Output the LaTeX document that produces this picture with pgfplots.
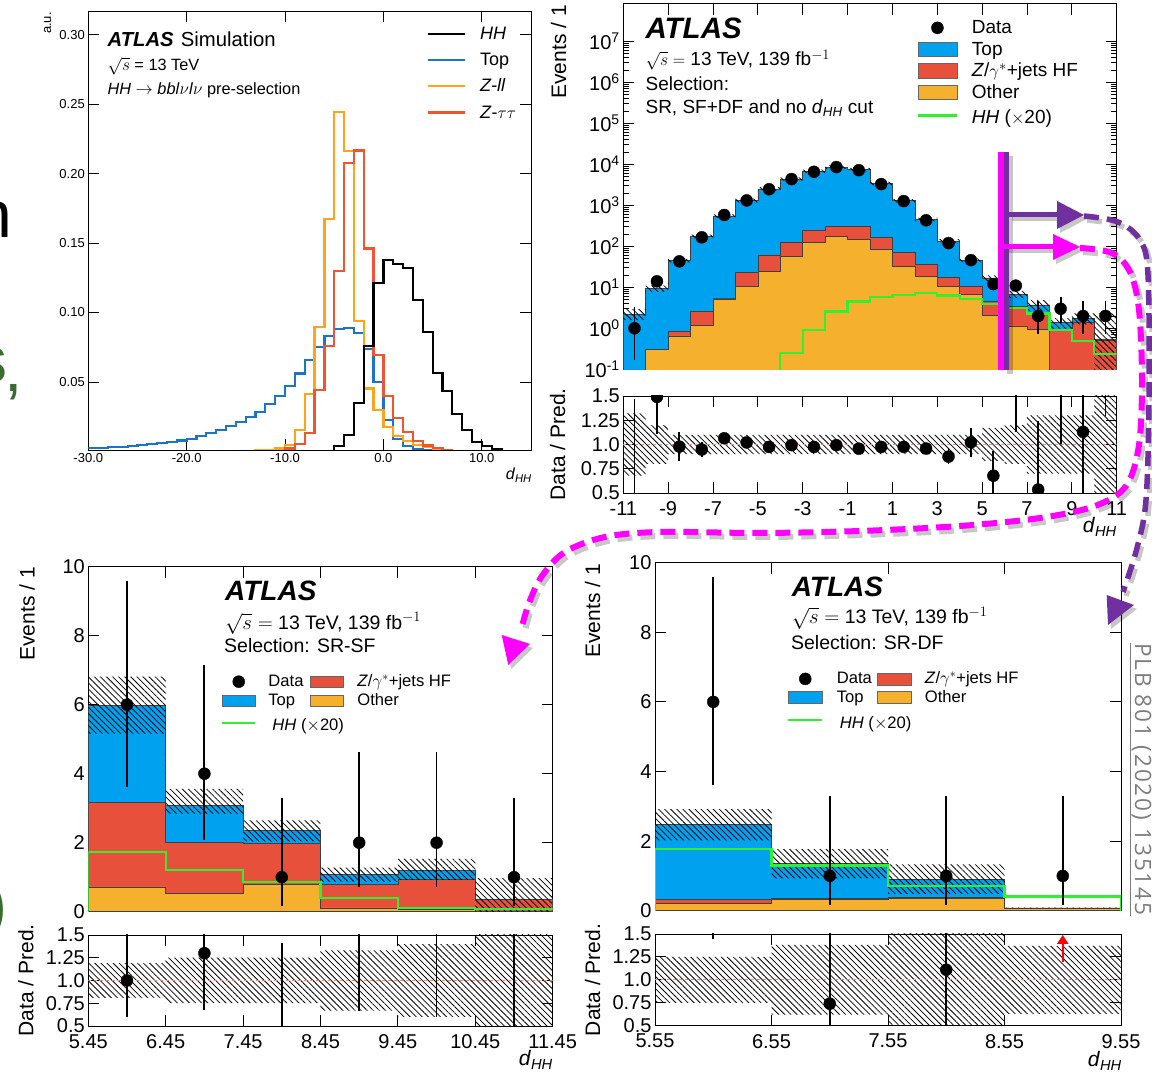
\documentclass[border=0pt]{standalone}
\usepackage{fontspec}
\setmainfont{Liberation Sans}
\newfontfamily\citefont[LetterSpace=9]{Open Sans}
\usepackage{pgfplots}
\pgfplotsset{compat=1.18}
\usetikzlibrary{patterns.meta,arrows.meta}

\definecolor{topblue}{RGB}{0,161,238}
\definecolor{zred}{RGB}{231,80,58}
\definecolor{othorange}{RGB}{245,177,46}
\definecolor{hhgreen}{RGB}{48,240,48}
\definecolor{tlblue}{RGB}{28,117,196}
\definecolor{tlorange}{RGB}{255,163,26}
\definecolor{tlred}{RGB}{240,84,48}
\definecolor{mag}{RGB}{255,0,255}
\definecolor{purp}{RGB}{112,48,160}
\definecolor{slidegreen}{RGB}{58,108,48}
\definecolor{citegrey}{RGB}{125,125,125}

\newcommand{\fs}[1]{\fontsize{#1}{#1}\selectfont}
\newcommand{\dHH}{\textit{d}\textsubscript{\textit{HH}}}
\newcommand{\lstrut}[2]{\rule[-#2pt]{0pt}{\dimexpr#1pt+#2pt\relax}}

\pgfplotsset{
  atlas/.style={
    scale only axis, anchor=south west,
    axis line style={line width=0.9pt},
    tick style={black, line width=0.9pt},
    major tick length=11pt, minor tick length=6pt,
    tick align=inside,
    tick label style={font=\fs{20}},
    clip marker paths=true,
    legend cell align=left,
    legend style={draw=none, fill=none, inner sep=0pt, outer sep=0pt,
      row sep=0pt, column sep=0pt, nodes={inner sep=0pt, outer sep=0pt, text depth=}},
  },
  ratio/.style={xticklabel style={yshift=-5pt}},
  hatch/.style={draw=none, forget plot, pattern={Lines[angle=-45,distance=4.3pt,line width=0.8pt]}, pattern color=black},
  stackfill/.style={const plot, draw=black!75, line width=0.6pt, forget plot},
  hist/.style={const plot, line width=2.2pt, forget plot},
  datapts/.style={only marks, mark=*, mark size=6pt, black, forget plot,
    error bars/.cd, y dir=both, y explicit, error mark=none,
    error bar style={line width=1.8pt, black}},
  unity/.style={red!50, dashed, line width=0.8pt, forget plot},
}

% paths of the annotation arrows (pixel units, y downwards)
\newcommand{\magcurve}{plot[smooth,tension=0.55] coordinates {(1080,248) (1112,253) (1130,272) (1139,310) (1142,380) (1139,445) (1126,486) (1095,506) (1040,518) (960,526) (860,531) (760,533) (660,532) (605,537) (565,552) (542,576) (529,603) (521,630)}}
\newcommand{\purpcurve}{plot[smooth,tension=0.55] coordinates {(1084,216) (1118,222) (1140,240) (1148,275) (1149,400) (1146,500) (1137,548) (1123,592)}}

\begin{document}
\begin{tikzpicture}
\path[use as bounding box] (0,0) rectangle (1152pt,1075pt);
\clip (0,0) rectangle (1152pt,1075pt);

%% ---------------- normalised d_HH shapes ----------------
\begin{axis}[atlas, at={(88.3pt,625pt)}, width=442.7pt, height=439pt,
  xmin=-30, xmax=15, ymin=0.001, ymax=0.317,
  axis line style={line width=0.7pt}, tick style={black,line width=0.7pt},
  xtick={-30,-20,-10,0,10}, xticklabels={-30.0,-20.0,-10.0,0.0,10.0},
  ytick={0.05,0.1,0.15,0.2,0.25,0.3}, yticklabels={0.05,0.10,0.15,0.20,0.25,0.30},
  tick label style={font=\fs{13}},
  legend style={at={(0.7651,0.9789)}, anchor=north west, font=\fs{18}}]
\addplot[hist, tlblue] coordinates {
 (-30,0.0022)(-29,0.0026)(-28,0.0030)(-27,0.0034)(-26,0.0039)(-25,0.0045)(-24,0.0052)(-23,0.0060)(-22,0.0068)(-21,0.0078)
 (-20,0.0089)(-19,0.0108)(-18,0.0132)(-17,0.0156)(-16,0.0180)(-15,0.0209)(-14,0.0247)(-13,0.0286)(-12,0.0340)(-11,0.0400)
 (-10,0.0470)(-9,0.0560)(-8,0.0655)(-7,0.0750)(-6,0.0830)(-5,0.0880)(-4,0.0890)(-3,0.0850)(-2,0.0737)(-1,0.0497)
 (0,0.0223)(1,0.0089)(2,0.0041)(3,0.0017)(4,0.0007)(5,0)(6,0)};
\addplot[hist, tlorange] coordinates {
 (-17,0)(-16,0.0005)(-15,0.0005)(-14,0.0005)(-13,0.0007)(-12,0.0010)(-11,0.0020)(-10,0.0048)(-9,0.0151)(-8,0.0415)
 (-7,0.0895)(-6,0.1670)(-5,0.2440)(-4,0.2164)(-3,0.0936)(-2,0.0453)(-1,0.0300)(0,0.0175)(1,0.0108)(2,0.0072)
 (3,0.0048)(4,0.0030)(5,0.0017)(6,0.0010)(7,0)(8,0)};
\addplot[hist, tlred] coordinates {
 (-12,0)(-11,0.0005)(-10,0.0020)(-9,0.0053)(-8,0.0132)(-7,0.0444)(-6,0.0756)(-5,0.1300)(-4,0.2075)(-3,0.2166)
 (-2,0.1460)(-1,0.0696)(0,0.0396)(1,0.0240)(2,0.0137)(3,0.0072)(4,0.0043)(5,0.0024)(6,0.0012)(7,0)(8,0)};
\addplot[hist, black] coordinates {
 (-6,0)(-5,0.0036)(-4,0.0120)(-3,0.0348)(-2,0.0756)(-1,0.1210)(0,0.1380)(1,0.1348)(2,0.1320)(3,0.1087)
 (4,0.0857)(5,0.0564)(6,0.0432)(7,0.0269)(8,0.0151)(9,0.0067)(10,0.0036)(11,0.0019)(12,0.0005)(13,0)};
\addlegendimage{legend image code/.code={\draw[black,line width=2.5pt] (0pt,-0.7pt) -- (37pt,-0.7pt); \path (51.6pt,-0.7pt);}}
\addlegendentry{\lstrut{19.55}{6.55}\textit{HH}}
\addlegendimage{legend image code/.code={\draw[tlblue,line width=2.5pt] (0pt,-0.7pt) -- (37pt,-0.7pt); \path (51.6pt,-0.7pt);}}
\addlegendentry{\lstrut{19.55}{6.55}Top}
\addlegendimage{legend image code/.code={\draw[tlorange,line width=2.5pt] (0pt,-0.7pt) -- (37pt,-0.7pt); \path (51.6pt,-0.7pt);}}
\addlegendentry{\lstrut{19.55}{6.55}\textit{Z-ll}}
\addlegendimage{legend image code/.code={\draw[tlred,line width=2.5pt] (0pt,-0.7pt) -- (37pt,-0.7pt); \path (51.6pt,-0.7pt);}}
\addlegendentry{\lstrut{19.55}{6.55}\textit{Z}-$\tau\tau$}
\end{axis}

%% ---------------- SR, SF+DF, no d_HH cut: main (log) ----------------
\begin{axis}[atlas, at={(623.3pt,705.7pt)}, width=493.4pt, height=365.7pt,
  xmin=-11, xmax=11, ymode=log, ymin=0.1, ymax=8.4e7,
  xtick={-11,-9,...,11}, xticklabels={},
  ytick={0.1,1,10,100,1000,10000,100000,1000000,10000000},
  yticklabels={10\textsuperscript{-1},10\textsuperscript{0},10\textsuperscript{1},10\textsuperscript{2},10\textsuperscript{3},10\textsuperscript{4},10\textsuperscript{5},10\textsuperscript{6},10\textsuperscript{7}},
  legend style={at={(0.5946,0.9642)}, anchor=north west, font=\fs{19}}]
\addplot[stackfill, fill=topblue] coordinates {(-11,0.01)
 (-11,2.25)(-10,9.5)(-9,45)(-8,175)(-7,551)(-6,1320)(-5,2520)(-4,4400)(-3,6800)(-2,8600)(-1,7500)
 (0,3400)(1,1300)(2,450)(3,136)(4,46)(5,17)(6,6.8)(7,3.74)(8,1.37)(9,1.77)(10,0.55)(11,0.55)(11,0.01)};
\addplot[stackfill, fill=zred] coordinates {(-11,0.01)
 (-10,0.31)(-9,0.83)(-8,2.55)(-7,5.4)(-6,22.8)(-5,61.7)(-4,128)(-3,251)(-2,316)(-1,316)
 (0,163)(1,70)(2,36)(3,17.6)(4,10.8)(5,4.5)(6,3.5)(7,2.3)(8,0.9)(9,1.37)(10,0.52)(11,0.52)(11,0.01)};
\addplot[stackfill, fill=othorange] coordinates {(-11,0.01)
 (-10,0.31)(-9,0.65)(-8,1.16)(-7,5.2)(-6,10.5)(-5,24)(-4,58)(-3,123)(-2,173)(-1,148)
 (0,85)(1,33)(2,18.2)(3,10.5)(4,6.8)(5,2.1)(6,1.14)(7,0.96)(8,0.01)(11,0.01)};
% uncertainty band on the total prediction
\addplot[hatch] coordinates {
 (-11,2.925)(-10,2.925)(-10,11.21)(-9,11.21)(-9,49.5)(-8,49.5)(-8,192.5)(-7,192.5)(-7,606.1)(-6,606.1)
 (-6,1452)(-5,1452)(-5,2772)(-4,2772)(-4,4840)(-3,4840)(-3,7480)(-2,7480)(-2,9460)(-1,9460)
 (-1,8250)(0,8250)(0,3740)(1,3740)(1,1430)(2,1430)(2,495)(3,495)(3,149.6)(4,149.6)
 (4,50.6)(5,50.6)(5,19.55)(6,19.55)(6,8.16)(7,8.16)(7,4.86)(8,4.86)(8,1.78)(9,1.78)(9,2.30)(10,2.30)(10,2.31)(11,2.31)
 (11,0.01)(10,0.01)(10,1.24)(9,1.24)(9,0.96)(8,0.96)(8,2.62)(7,2.62)(7,5.44)(6,5.44)(6,14.45)(5,14.45)
 (5,41.4)(4,41.4)(4,122.4)(3,122.4)(3,405)(2,405)(2,1170)(1,1170)(1,3060)(0,3060)
 (0,6750)(-1,6750)(-1,7740)(-2,7740)(-2,6120)(-3,6120)(-3,3960)(-4,3960)(-4,2268)(-5,2268)
 (-5,1188)(-6,1188)(-6,495.9)(-7,495.9)(-7,157.5)(-8,157.5)(-8,40.5)(-9,40.5)(-9,7.79)(-10,7.79)(-10,1.575)(-11,1.575)};
\addplot[const plot, hhgreen, line width=2.2pt, forget plot] coordinates {
 (-5,0.01)(-4,0.245)(-3,0.91)(-2,2.57)(-1,4.5)(0,5.9)(1,6.5)(2,7.2)(3,6.3)(4,5.2)(5,3.9)(6,3.1)(7,2.3)(8,0.9)(9,0.5)(10,0.24)(11,0.24)};
\addplot[datapts] coordinates {
 (-10.5,1) += (0,2.30) -= (0,0.83)
 (-9.5,14) += (0,4.8) -= (0,3.6)
 (-8.5,43) +- (0,6.6)
 (-7.5,166) +- (0,12.9)
 (-6.5,583) +- (0,24)
 (-5.5,1320) +- (0,36)
 (-4.5,2470) +- (0,50)
 (-3.5,4370) +- (0,66)
 (-2.5,6600) +- (0,81)
 (-1.5,8600) +- (0,93)
 (-0.5,7200) +- (0,85)
 (0.5,3300) +- (0,57)
 (1.5,1270) +- (0,36)
 (2.5,432) +- (0,21)
 (3.5,120) +- (0,11)
 (4.5,46) +- (0,6.8)
 (5.5,12) += (0,4.6) -= (0,3.4)
 (6.5,11) += (0,4.4) -= (0,3.3)
 (7.5,2) += (0,2.64) -= (0,1.29)
 (8.5,3) += (0,2.92) -= (0,1.63)
 (9.5,2) += (0,2.64) -= (0,1.29)
 (10.5,2) += (0,2.64) -= (0,1.29)};
\addlegendimage{legend image code/.code={\fill[black] (19.5pt,-0.4pt) circle (6pt); \path (53.8pt,-0.4pt);}}
\addlegendentry{\lstrut{17}{4.5}Data}
\addlegendimage{legend image code/.code={\filldraw[fill=topblue,draw=black!60,line width=0.5pt] (0pt,-7.6pt) rectangle (39pt,6.8pt); \path (53.8pt,-0.4pt);}}
\addlegendentry{\lstrut{17}{4.5}Top}
\addlegendimage{legend image code/.code={\filldraw[fill=zred,draw=black!60,line width=0.5pt] (0pt,-7.6pt) rectangle (39pt,6.8pt); \path (53.8pt,-0.4pt);}}
\addlegendentry{\lstrut{17}{4.5}\textit{Z}/$\gamma^{*}$+jets HF}
\addlegendimage{legend image code/.code={\filldraw[fill=othorange,draw=black!60,line width=0.5pt] (0pt,-7.6pt) rectangle (39pt,6.8pt); \path (53.8pt,-0.4pt);}}
\addlegendentry{\lstrut{17}{4.5}Other}
\addlegendimage{legend image code/.code={\draw[hhgreen,line width=2.5pt] (0pt,-0.4pt) -- (39pt,-0.4pt); \path (53.8pt,-0.4pt);}}
\addlegendentry{\lstrut{20.6}{4.5}\textit{HH} ($\times$20)}
\end{axis}

%% ---------------- SR, SF+DF: ratio ----------------
\begin{axis}[atlas, ratio, at={(623.3pt,582pt)}, width=493.4pt, height=97pt,
  xmin=-11, xmax=11, ymin=0.5, ymax=1.5,
  xtick={-11,-9,...,11}, xticklabels={-11,-9,-7,-5,-3,-1,1,3,5,7,9,11},
  ytick={0.5,0.75,1,1.25,1.5}, yticklabels={0.5,0.75,1.0,1.25,1.5}]
\addplot[hatch] coordinates {
 (-11,1.32)(-10,1.32)(-10,1.2)(-9,1.2)(-9,1.1)(5,1.1)(5,1.17)(6,1.17)(6,1.2)(7,1.2)(7,1.3)(10,1.3)(10,1.6)(11,1.6)
 (11,0.4)(10,0.4)(10,0.7)(7,0.7)(7,0.8)(6,0.8)(6,0.83)(5,0.83)(5,0.9)(-9,0.9)(-9,0.8)(-10,0.8)(-10,0.68)(-11,0.68)};
\addplot[unity] coordinates {(-11,1)(11,1)};
\addplot[datapts] coordinates {
 (-10.5,0.444) += (0,1.02) -= (0,0.37)
 (-9.5,1.49) += (0,0.53) -= (0,0.38)
 (-8.5,0.978) +- (0,0.147)
 (-7.5,0.948) +- (0,0.074)
 (-6.5,1.064) +- (0,0.044)
 (-5.5,1.021) +- (0,0.028)
 (-4.5,0.975) +- (0,0.019)
 (-3.5,0.993) +- (0,0.015)
 (-2.5,0.975) +- (0,0.012)
 (-1.5,0.993) +- (0,0.011)
 (-0.5,0.957) +- (0,0.012)
 (0.5,0.975) +- (0,0.017)
 (1.5,0.975) +- (0,0.028)
 (2.5,0.958) +- (0,0.046)
 (3.5,0.875) +- (0,0.08)
 (4.5,1.022) +- (0,0.149)
 (5.5,0.678) += (0,0.26) -= (0,0.19)
 (6.5,1.618) += (0,0.65) -= (0,0.49)
 (7.5,0.535) += (0,0.71) -= (0,0.34)
 (8.5,2.19) += (0,2.13) -= (0,1.19)
 (9.5,1.13) += (0,1.49) -= (0,0.73)
 (10.5,3.64) += (0,4.8) -= (0,2.35)};
\end{axis}

%% ---------------- SR-SF: main ----------------
\begin{axis}[atlas, at={(88.3pt,163.3pt)}, width=464.4pt, height=345pt,
  xmin=5.45, xmax=11.45, ymin=0, ymax=10,
  xtick={5.45,6.45,7.45,8.45,9.45,10.45,11.45}, xticklabels={},
  ytick={0,2,4,6,8,10}, yticklabels={0,2,4,6,8,10},
  legend columns=2,
  legend style={at={(0.2857,0.6977)}, anchor=north west, font=\fs{16.6}}]
\addplot[stackfill, fill=topblue] coordinates {(5.45,5.99)(6.45,3.07)(7.45,2.35)(8.45,1.07)(9.45,1.19)(10.45,0.37)(11.45,0.37)} \closedcycle;
\addplot[stackfill, fill=zred] coordinates {(5.45,3.16)(6.45,2.0)(7.45,1.98)(8.45,0.79)(9.45,0.93)(10.45,0.36)(11.45,0.36)} \closedcycle;
\addplot[stackfill, fill=othorange] coordinates {(5.45,0.72)(6.45,0.52)(7.45,0.78)(8.45,0.11)(9.45,0.06)(10.45,0.01)(11.45,0.01)} \closedcycle;
\addplot[hatch] coordinates {
 (5.45,6.81)(6.45,6.81)(6.45,3.56)(7.45,3.56)(7.45,2.65)(8.45,2.65)(8.45,1.28)(9.45,1.28)(9.45,1.53)(10.45,1.53)(10.45,0.97)(11.45,0.97)
 (11.45,-0.2)(10.45,-0.2)(10.45,0.92)(9.45,0.92)(9.45,0.87)(8.45,0.87)(8.45,2.04)(7.45,2.04)(7.45,2.84)(6.45,2.84)(6.45,5.16)(5.45,5.16)};
\addplot[const plot, hhgreen, line width=2.2pt, forget plot] coordinates {(5.45,0)(5.45,1.74)(6.45,1.21)(7.45,0.87)(8.45,0.39)(9.45,0.11)(10.45,0.08)(11.45,0.08)};
\addplot[datapts] coordinates {
 (5.95,6) += (0,3.58) -= (0,2.38)
 (6.95,4) += (0,3.16) -= (0,1.91)
 (7.95,1) += (0,2.30) -= (0,0.83)
 (8.95,2) += (0,2.64) -= (0,1.29)
 (9.95,2) += (0,2.64) -= (0,1.29)
 (10.95,1) += (0,2.30) -= (0,0.83)};
\addlegendimage{legend image code/.code={\fill[black] (16.5pt,-1.2pt) circle (6pt); \path (46pt,-1.2pt);}}
\addlegendentry{\lstrut{15.5}{3.5}\makebox[42pt][l]{Data}}
\addlegendimage{legend image code/.code={\filldraw[fill=zred,draw=black!60,line width=0.5pt] (0pt,-6.9pt) rectangle (33pt,4.5pt); \path (46.5pt,-1.2pt);}}
\addlegendentry{\lstrut{15.5}{3.5}\textit{Z}/$\gamma^{*}$+jets HF}
\addlegendimage{legend image code/.code={\filldraw[fill=topblue,draw=black!60,line width=0.5pt] (0pt,-6.9pt) rectangle (33pt,4.5pt); \path (46pt,-1.2pt);}}
\addlegendentry{\lstrut{15.5}{3.5}\makebox[42pt][l]{Top}}
\addlegendimage{legend image code/.code={\filldraw[fill=othorange,draw=black!60,line width=0.5pt] (0pt,-6.9pt) rectangle (33pt,4.5pt); \path (46.5pt,-1.2pt);}}
\addlegendentry{\lstrut{15.5}{3.5}Other}
\addlegendimage{legend image code/.code={\draw[hhgreen,line width=2.5pt] (0pt,-1.2pt) -- (33pt,-1.2pt); \path (46pt,-1.2pt);}}
\addlegendentry{\lstrut{22}{3.5}\makebox[42pt][l]{\hspace{4pt}\textit{HH} ($\times$20)}}
\end{axis}

%% ---------------- SR-SF: ratio ----------------
\begin{axis}[atlas, ratio, at={(88.3pt,49pt)}, width=464.4pt, height=91pt,
  xmin=5.45, xmax=11.45, ymin=0.5, ymax=1.5,
  xtick={5.45,6.45,7.45,8.45,9.45,10.45,11.45}, xticklabels={5.45,6.45,7.45,8.45,9.45,10.45,11.45},
  ytick={0.5,0.75,1,1.25,1.5}, yticklabels={0.5,0.75,1.0,1.25,1.5}]
\addplot[hatch] coordinates {
 (5.45,1.19)(6.45,1.19)(6.45,1.25)(8.45,1.25)(8.45,1.33)(9.45,1.33)(9.45,1.40)(10.45,1.40)(10.45,1.6)(11.45,1.6)
 (11.45,0.4)(10.45,0.4)(10.45,0.60)(9.45,0.60)(9.45,0.67)(8.45,0.67)(8.45,0.75)(6.45,0.75)(6.45,0.81)(5.45,0.81)};
\addplot[unity] coordinates {(5.45,1)(11.45,1)};
\addplot[datapts] coordinates {
 (5.95,1.0) += (0,0.60) -= (0,0.40)
 (6.95,1.30) += (0,1.03) -= (0,0.62)
 (7.95,0.43) += (0,0.98) -= (0,0.35)
 (8.95,1.87) += (0,2.47) -= (0,1.21)
 (9.95,1.68) += (0,2.22) -= (0,1.08)
 (10.95,2.7) += (0,6.2) -= (0,2.24)};
\end{axis}

%% ---------------- SR-DF: main ----------------
\begin{axis}[atlas, at={(655pt,164.3pt)}, width=466pt, height=348pt,
  xmin=5.55, xmax=9.55, ymin=0, ymax=10,
  xtick={5.55,6.55,7.55,8.55,9.55}, xticklabels={},
  ytick={0,2,4,6,8,10}, yticklabels={0,2,4,6,8,10},
  legend columns=2,
  legend style={at={(0.2833,0.6963)}, anchor=north west, font=\fs{16.6}}]
\addplot[stackfill, fill=topblue] coordinates {(5.55,2.49)(6.55,1.35)(7.55,0.90)(8.55,0.08)(9.55,0.08)} \closedcycle;
\addplot[stackfill, fill=zred] coordinates {(5.55,0.32)(6.55,0.36)(7.55,0.39)(8.55,0.08)(9.55,0.08)} \closedcycle;
\addplot[stackfill, fill=othorange] coordinates {(5.55,0.2)(6.55,0.32)(7.55,0.36)(8.55,0.07)(9.55,0.07)} \closedcycle;
\addplot[hatch] coordinates {
 (5.55,2.92)(6.55,2.92)(6.55,1.77)(7.55,1.77)(7.55,1.33)(8.55,1.33)(8.55,0.085)(9.55,0.085)
 (9.55,0.075)(8.55,0.075)(8.55,0.48)(7.55,0.48)(7.55,0.93)(6.55,0.93)(6.55,2.02)(5.55,2.02)};
\addplot[const plot, hhgreen, line width=2.2pt, forget plot] coordinates {(5.55,0)(5.55,1.77)(6.55,1.30)(7.55,0.72)(8.55,0.41)(9.55,0.41)(9.55,0)};
\addplot[datapts] coordinates {
 (6.05,6) += (0,3.58) -= (0,2.38)
 (7.05,1) += (0,2.30) -= (0,0.83)
 (8.05,1) += (0,2.30) -= (0,0.83)
 (9.05,1) += (0,2.30) -= (0,0.83)};
\addlegendimage{legend image code/.code={\fill[black] (17pt,-1.2pt) circle (6pt); \path (48.4pt,-1.2pt);}}
\addlegendentry{\lstrut{15.2}{3.2}\makebox[40.6pt][l]{Data}}
\addlegendimage{legend image code/.code={\filldraw[fill=zred,draw=black!60,line width=0.5pt] (0pt,-7.2pt) rectangle (34pt,4.8pt); \path (47pt,-1.2pt);}}
\addlegendentry{\lstrut{15.2}{3.2}\textit{Z}/$\gamma^{*}$+jets HF}
\addlegendimage{legend image code/.code={\filldraw[fill=topblue,draw=black!60,line width=0.5pt] (0pt,-7.2pt) rectangle (34pt,4.8pt); \path (48.4pt,-1.2pt);}}
\addlegendentry{\lstrut{15.2}{3.2}\makebox[40.6pt][l]{Top}}
\addlegendimage{legend image code/.code={\filldraw[fill=othorange,draw=black!60,line width=0.5pt] (0pt,-7.2pt) rectangle (34pt,4.8pt); \path (47pt,-1.2pt);}}
\addlegendentry{\lstrut{15.2}{3.2}Other}
\addlegendimage{legend image code/.code={\draw[hhgreen,line width=2.5pt] (0pt,-1.2pt) -- (34pt,-1.2pt); \path (48.4pt,-1.2pt);}}
\addlegendentry{\lstrut{22.6}{3.2}\makebox[40.6pt][l]{\hspace{3pt}\textit{HH} ($\times$20)}}
\end{axis}

%% ---------------- SR-DF: ratio ----------------
\begin{axis}[atlas, ratio, at={(655pt,49.3pt)}, width=466pt, height=91.7pt,
  xmin=5.55, xmax=9.55, ymin=0.5, ymax=1.5,
  xtick={5.55,6.55,7.55,8.55,9.55}, xticklabels={5.55,6.55,7.55,8.55,9.55},
  ytick={0.5,0.75,1,1.25,1.5}, yticklabels={0.5,0.75,1.0,1.25,1.5}]
\addplot[hatch] coordinates {
 (5.55,1.25)(6.55,1.25)(6.55,1.38)(7.55,1.38)(7.55,1.6)(8.55,1.6)(8.55,1.37)(9.55,1.37)
 (9.55,0.63)(8.55,0.63)(8.55,0.4)(7.55,0.4)(7.55,0.62)(6.55,0.62)(6.55,0.75)(5.55,0.75)};
\addplot[unity] coordinates {(5.55,1)(9.55,1)};
\addplot[datapts] coordinates {
 (6.05,2.41) += (0,1.44) -= (0,0.96)
 (7.05,0.74) += (0,1.70) -= (0,0.61)
 (8.05,1.11) += (0,2.56) -= (0,0.92)};
\addplot[red, line width=2pt, -{Triangle[length=9pt,width=11pt]}, forget plot] coordinates {(9.05,1.2)(9.05,1.49)};
\end{axis}

%% ---------------- labels and annotations (pixel units) ----------------
\begin{scope}[x=1pt,y=-1pt,shift={(0pt,1075pt)}]
 % fragments of the slide text behind the figure
 \node[anchor=base east, inner sep=0, font=\fs{66}, black] at (12.5,238) {n};
 \node[anchor=base east, inner sep=0, font=\fs{66}, slidegreen] at (7.6,383) {s};
 \node[anchor=base west, inner sep=0, font=\fs{66}, slidegreen] at (4.5,391.6) {,};
 \node[anchor=base east, inner sep=0, font=\fs{66}, slidegreen] at (7.6,928) {)};

 % top-left panel texts
 \node[anchor=base west, inner sep=0, font=\fs{20.3}] at (107.4,46.7) {{\bfseries\itshape ATLAS}\hspace{0.35em}Simulation};
 \node[anchor=base west, inner sep=0, font=\fs{16.3}] at (107.4,70.7) {$\sqrt{s}$ = 13 TeV};
 \node[anchor=base west, inner sep=0, font=\fs{16.3}] at (107.4,95) {\textit{HH} $\rightarrow$ \textit{bbl}$\nu$\textit{l}$\nu$ pre-selection};
 \node[rotate=90, anchor=base east, inner sep=0, font=\fs{13}] at (51,12) {a.u.};
 \node[anchor=base east, inner sep=0, font=\fs{16}] at (532,480) {\dHH};

 % top-right panel texts
 \node[anchor=base west, inner sep=0, font=\fs{29.5}\bfseries\itshape] at (645.4,38.6) {ATLAS};
 \node[anchor=base west, inner sep=0, font=\fs{19}] at (645.4,65.4) {$\sqrt{s}=$ 13 TeV, 139 fb$^{-1}$};
 \node[anchor=base west, inner sep=0, font=\fs{19}] at (645.4,90.2) {Selection:};
 \node[anchor=base west, inner sep=0, font=\fs{19}] at (645.4,113.6) {SR, SF+DF and no \dHH{} cut};
 \node[rotate=90, anchor=base east, inner sep=0, font=\fs{21}] at (566,5) {Events / 1};
 \node[rotate=90, anchor=base, inner sep=0, font=\fs{21}] at (565,444.5) {Data / Pred.};
 \node[anchor=base east, inner sep=0, font=\fs{21}] at (1117,533) {\dHH};

 % bottom-left panel texts
 \node[anchor=base west, inner sep=0, font=\fs{28}\bfseries\itshape] at (225,600.8) {ATLAS};
 \node[anchor=base west, inner sep=0, font=\fs{19.5}] at (225,629.4) {$\sqrt{s}=$ 13 TeV, 139 fb$^{-1}$};
 \node[anchor=base west, inner sep=0, font=\fs{19.5}] at (224,653) {Selection: SR-SF};
 \node[rotate=90, anchor=base east, inner sep=0, font=\fs{21}] at (34.6,567) {Events / 1};
 \node[rotate=90, anchor=base, inner sep=0, font=\fs{21}] at (33.3,980.5) {Data / Pred.};
 \node[anchor=base east, inner sep=0, font=\fs{21}] at (553,1066) {\dHH};

 % bottom-right panel texts
 \node[anchor=base west, inner sep=0, font=\fs{28}\bfseries\itshape] at (791.6,596.4) {ATLAS};
 \node[anchor=base west, inner sep=0, font=\fs{19.5}] at (791.6,623.7) {$\sqrt{s}=$ 13 TeV, 139 fb$^{-1}$};
 \node[anchor=base west, inner sep=0, font=\fs{19.5}] at (790.9,650) {Selection: SR-DF};
 \node[rotate=90, anchor=base east, inner sep=0, font=\fs{21}] at (600,564) {Events / 1};
 \node[rotate=90, anchor=base, inner sep=0, font=\fs{21}] at (600,980) {Data / Pred.};
 \node[anchor=base east, inner sep=0, font=\fs{21}] at (1122,1067) {\dHH};

 % reference
 \node[rotate=-90, anchor=base west, inner sep=0, font=\citefont\fs{22.5}, text=citegrey] at (1135,643) {\underline{PLB 801 (2020) 135145}};

 % shadows of the arrows
 \begin{scope}[shift={(3,4)}, black, opacity=0.22]
  \draw[line width=6pt] (1006.5,152) -- (1006.5,370);
  \draw[line width=5pt] (1009,215) -- (1060,215);
  \draw[line width=5pt] (1004,247) -- (1055,247);
  \fill (1084,215) -- (1057,201) -- (1057,229) -- cycle;
  \fill (1080,247) -- (1053,234) -- (1053,260) -- cycle;
  \draw[line width=5.5pt, dash pattern=on 15pt off 8pt] \purpcurve;
  \draw[line width=6pt, dash pattern=on 15pt off 8pt] \magcurve;
  \fill (1108,625) -- (1106.7,595) -- (1134,605) -- cycle;
  \fill (508.3,665) -- (501.7,635) -- (530,644) -- cycle;
 \end{scope}

 % cut marker on d_HH and the arrows towards the two regions
 \draw[mag, line width=6pt] (1001,152) -- (1001,370);
 \draw[purp, line width=5pt] (1006.5,152) -- (1006.5,370);
 \draw[purp, line width=5pt] (1009,215) -- (1060,215);
 \fill[purp] (1084,215) -- (1057,201) -- (1057,229) -- cycle;
 \draw[mag, line width=5pt] (1004,247) -- (1055,247);
 \fill[mag] (1080,247) -- (1053,234) -- (1053,260) -- cycle;
 \draw[purp, line width=5.5pt, dash pattern=on 15pt off 8pt] \purpcurve;
 \fill[purp] (1108,625) -- (1106.7,595) -- (1134,605) -- cycle;
 \draw[mag, line width=6pt, dash pattern=on 15pt off 8pt] \magcurve;
 \fill[mag] (508.3,665) -- (501.7,635) -- (530,644) -- cycle;
\end{scope}
\end{tikzpicture}
\end{document}
